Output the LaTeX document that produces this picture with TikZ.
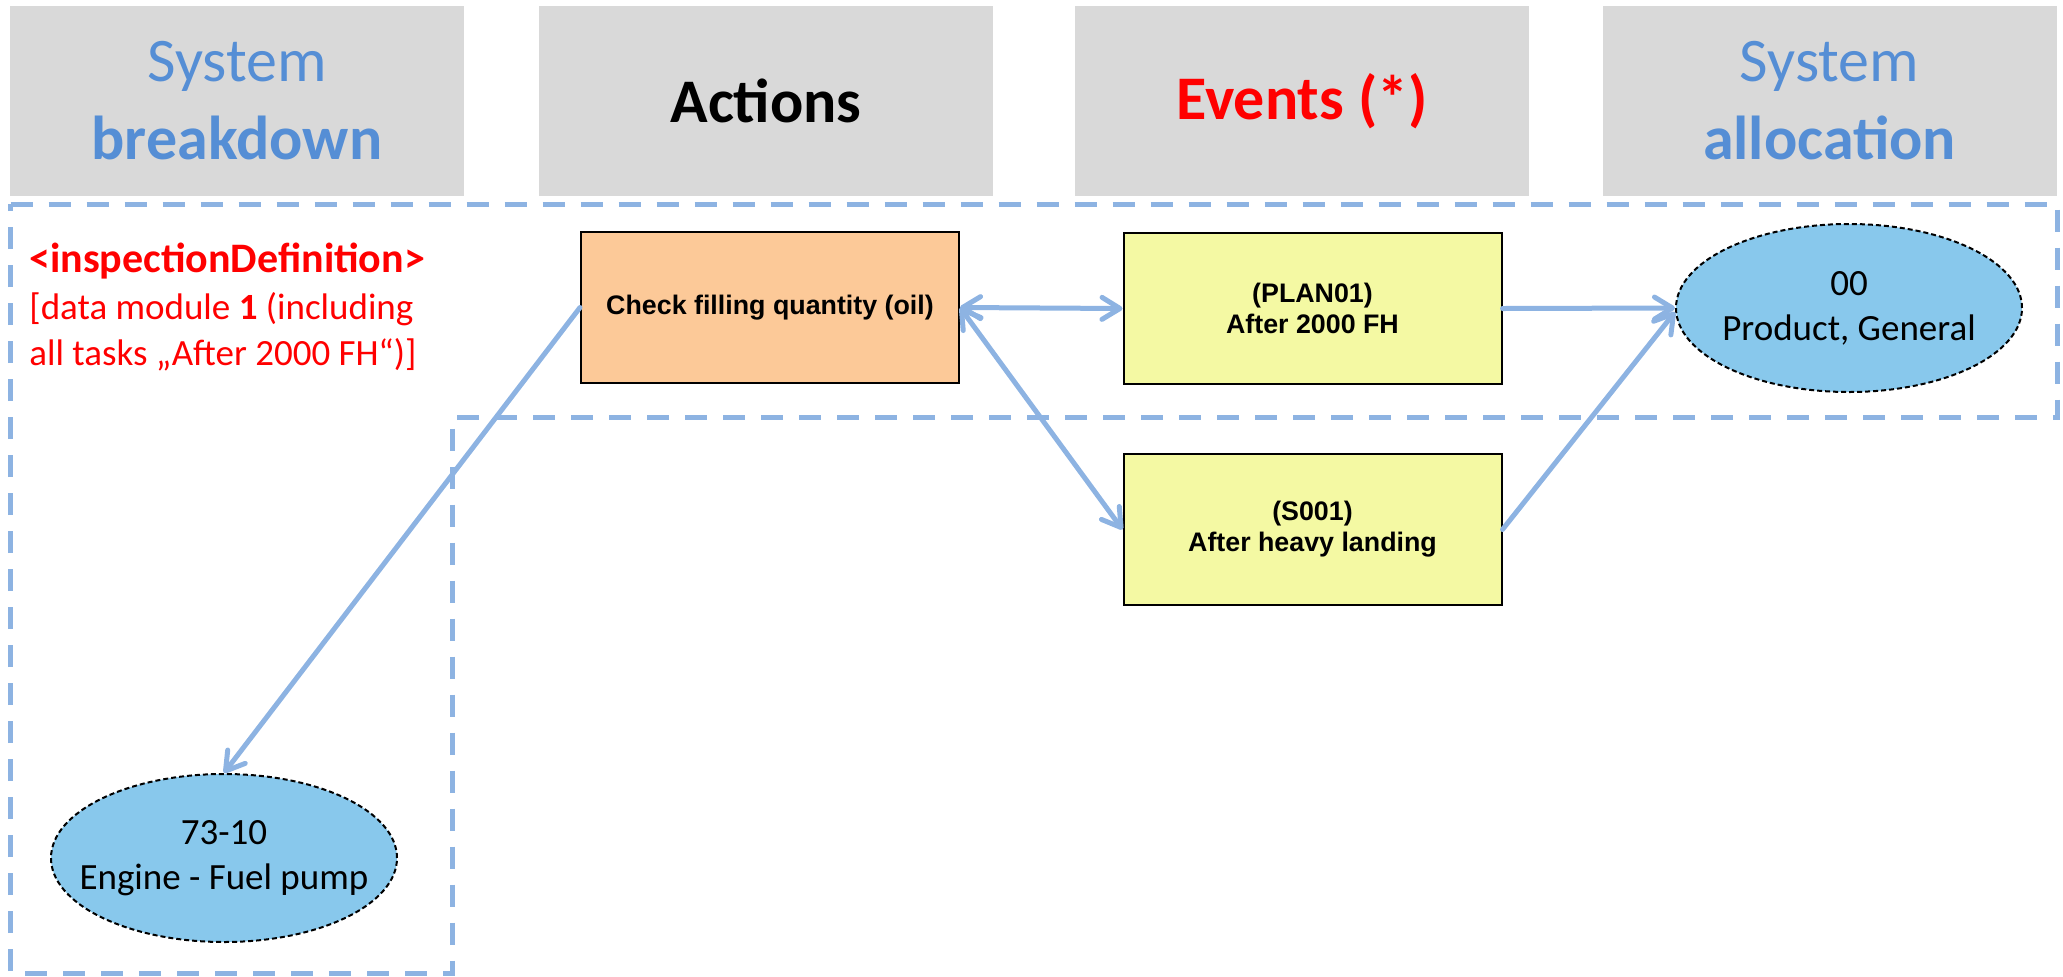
\documentclass[tikz,border=0pt]{standalone}
\usepackage{fontspec}
\setmainfont{Carlito}
\newfontfamily\arialfont{Liberation Sans}
\usetikzlibrary{shapes.geometric,arrows.meta}

\definecolor{hdrgray}{HTML}{D9D9D9}
\definecolor{hdrblue}{HTML}{558ED5}
\definecolor{linkblue}{HTML}{8DB3E2}
\definecolor{actfill}{HTML}{FCC998}
\definecolor{evtfill}{HTML}{F4F9A3}
\definecolor{sysfill}{HTML}{88C8EC}
\definecolor{defred}{HTML}{FF0000}

% centred line that does not widen its node
\newcommand\zwline[1]{\makebox[0pt][c]{#1}}

\begin{document}
\begin{tikzpicture}[x=0.5pt,y=-0.5pt,
  header/.style={fill=hdrgray, minimum width=227pt, minimum height=95pt,
    inner sep=0pt, align=center, font=\fontsize{31}{39}\selectfont},
  actionbox/.style={draw=black, line width=1pt, fill=actfill,
    minimum width=189pt, minimum height=75.5pt, inner sep=0pt, align=center,
    font=\arialfont\bfseries\fontsize{13.4}{15.5}\selectfont},
  eventbox/.style={actionbox, fill=evtfill},
  sysnode/.style={ellipse, draw=black, line width=1pt,
    dash pattern=on 2.5pt off 1.5pt, fill=sysfill, minimum width=173pt,
    minimum height=84pt, inner sep=0pt, align=center,
    font=\fontsize{18.5}{22.5}\selectfont},
  link/.style={draw=linkblue, line width=2.5pt, line cap=round},
  barb/.tip={Straight Barb[round,length=9pt,width=11pt]},
  onetip/.style={link, -barb},
  twotips/.style={link, barb-barb},
  zone/.style={draw=linkblue, line width=2.5pt, dash pattern=on 11pt off 8pt},
  deftext/.style={anchor=base west, inner sep=0pt, text=defred}
]
\useasboundingbox (0,0) rectangle (2063,976);

% column headers
\node[header] (h1) at (237,101)
  {\color{hdrblue}System\\\color{hdrblue}\bfseries breakdown};
\node[header] (h2) at (766,101) {\bfseries Actions};
\node[header] (h3) at (1302,101) {\color{defred}\bfseries Events (*)};
\node[header] (h4) at (1829.5,101)
  {\color{hdrblue}System\\\color{hdrblue}\bfseries allocation};

% scope of the data module
\draw[zone] (10.5,204) -- (2057,204) -- (2057,417) -- (452,417)
  -- (452,973) -- (10.5,973) -- cycle;

\node[deftext, font=\bfseries\fontsize{21}{25}\selectfont] (def1) at (29,272)
  {<inspectionDefinition>};
\node[deftext, font=\fontsize{18.5}{23}\selectfont] (def2) at (29,319)
  {[data module \textbf{1} (including};
\node[deftext, font=\fontsize{18.5}{23}\selectfont] (def3) at (29,365)
  {all tasks „After 2000 FH“)]};

% action, events and systems
\node[actionbox] (check) at (770,307.5) {Check filling quantity (oil)};
\node[eventbox] (plan) at (1312.5,308.5) {(PLAN01)\\After 2000 FH};
\node[eventbox] (heavy) at (1312.5,529.5) {(S001)\\After heavy landing};
\node[sysnode] (prod) at (1849,308)
  {\zwline{00}\\\zwline{Product, General}};
\node[sysnode] (eng) at (224,858)
  {\zwline{73-10}\\\zwline{Engine - Fuel pump}};

% relations
\draw[onetip] (check.west) -- (eng.north);
\draw[twotips] (check.east) -- (plan.west);
\draw[twotips] (check.east) -- (heavy.west);
\draw[onetip] (plan.east) -- (prod.west);
\draw[onetip] (heavy.east) -- ([yshift=-2pt]prod.west);
\end{tikzpicture}
\end{document}
